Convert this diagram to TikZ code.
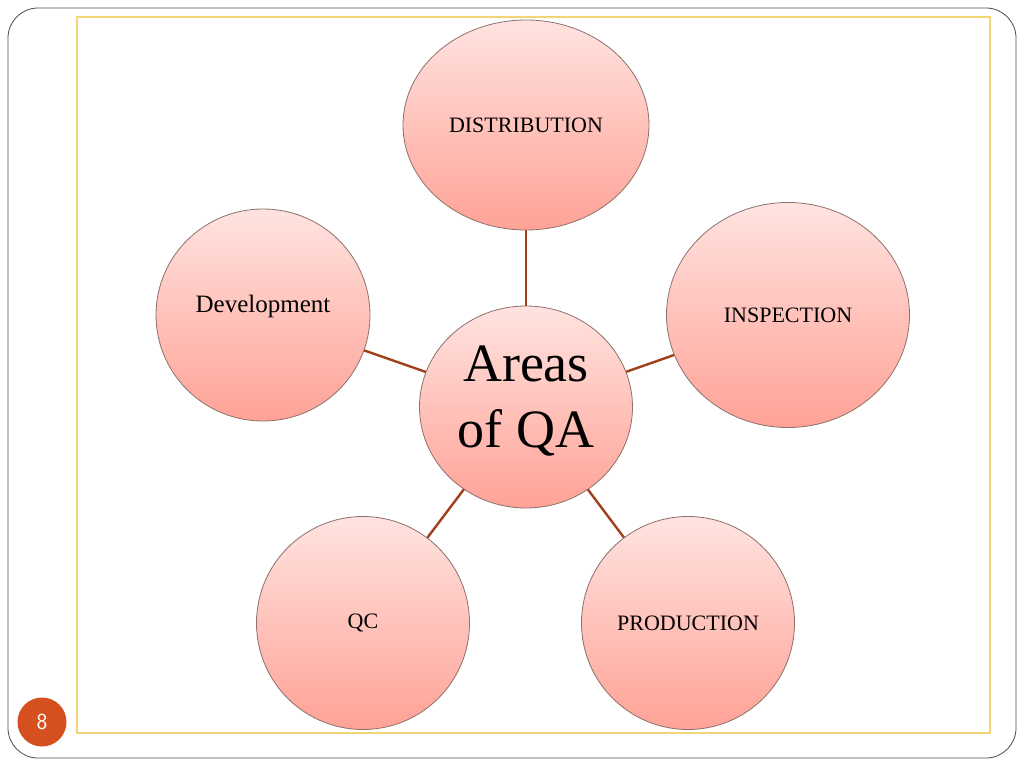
\documentclass[tikz,border=0pt]{standalone}
\usepackage{fontspec}
\setmainfont{Liberation Serif}
\usepackage{tikz}
\usetikzlibrary{shapes.geometric}
\usetikzlibrary{calc}

\definecolor{bubbletop}{HTML}{FFE3E0}
\definecolor{bubblebot}{HTML}{FFA296}
\definecolor{bubbleline}{HTML}{8C716D}
\definecolor{linkbrown}{HTML}{A0401A}
\definecolor{frameyellow}{HTML}{F2D675}
\definecolor{pagered}{HTML}{D64F1E}

\begin{document}
\begin{tikzpicture}[x=1pt, y=-1pt,
                bubble/.style={ellipse, draw=bubbleline, line width=0.8pt,
                        top color=bubbletop, bottom color=bubblebot,
                        inner sep=0pt, align=center, font=\fontsize{22}{26}\selectfont},
                hub/.style={bubble, font=\fontsize{54}{66}\selectfont},
                link/.style={draw=linkbrown, line width=2.4pt},
            ]

            \useasboundingbox (0,0) rectangle (1024,768);
            \fill[white] (0,0) rectangle (1024,768);

            % slide frame
            \draw[black!70, line width=0.8pt, rounded corners=30pt] (8,8) rectangle (1016,758);
            \draw[frameyellow, line width=1.2pt] (77,17) rectangle (990,733);

            \node[hub, minimum width=213pt, minimum height=202pt] (areas) at (526,407) {\raisebox{6pt}[\height][\depth]{\begin{tabular}{@{}c@{}}Areas\\of QA\end{tabular}}};
            \node[bubble, minimum width=246pt, minimum height=210pt] (distribution) at (526,125) {DISTRIBUTION};
            \node[bubble, minimum width=214pt, minimum height=212pt, font=\fontsize{25}{28}\selectfont] (development) at (263,315) {\raisebox{22pt}{Development}};
            \node[bubble, minimum width=243pt, minimum height=225pt] (inspection) at (788,315) {INSPECTION};
            \node[bubble, minimum width=213pt, minimum height=213pt] (qc) at (363,623) {QC};
            \node[bubble, minimum width=213pt, minimum height=213pt] (production) at (688,623) {PRODUCTION};

            \draw[link] (areas) -- (distribution);
            \draw[link] (areas) -- (development);
            \draw[link] (areas) -- (inspection);
            \draw[link] (areas) -- (qc);
            \draw[link] (areas) -- (production);

            % page number
            \node[circle, fill=pagered, minimum size=49pt, inner sep=0pt, text=white,
                font=\sffamily\fontsize{23}{26}\selectfont] (pagenum) at (42,722) {8};
        \end{tikzpicture}
\end{document}
